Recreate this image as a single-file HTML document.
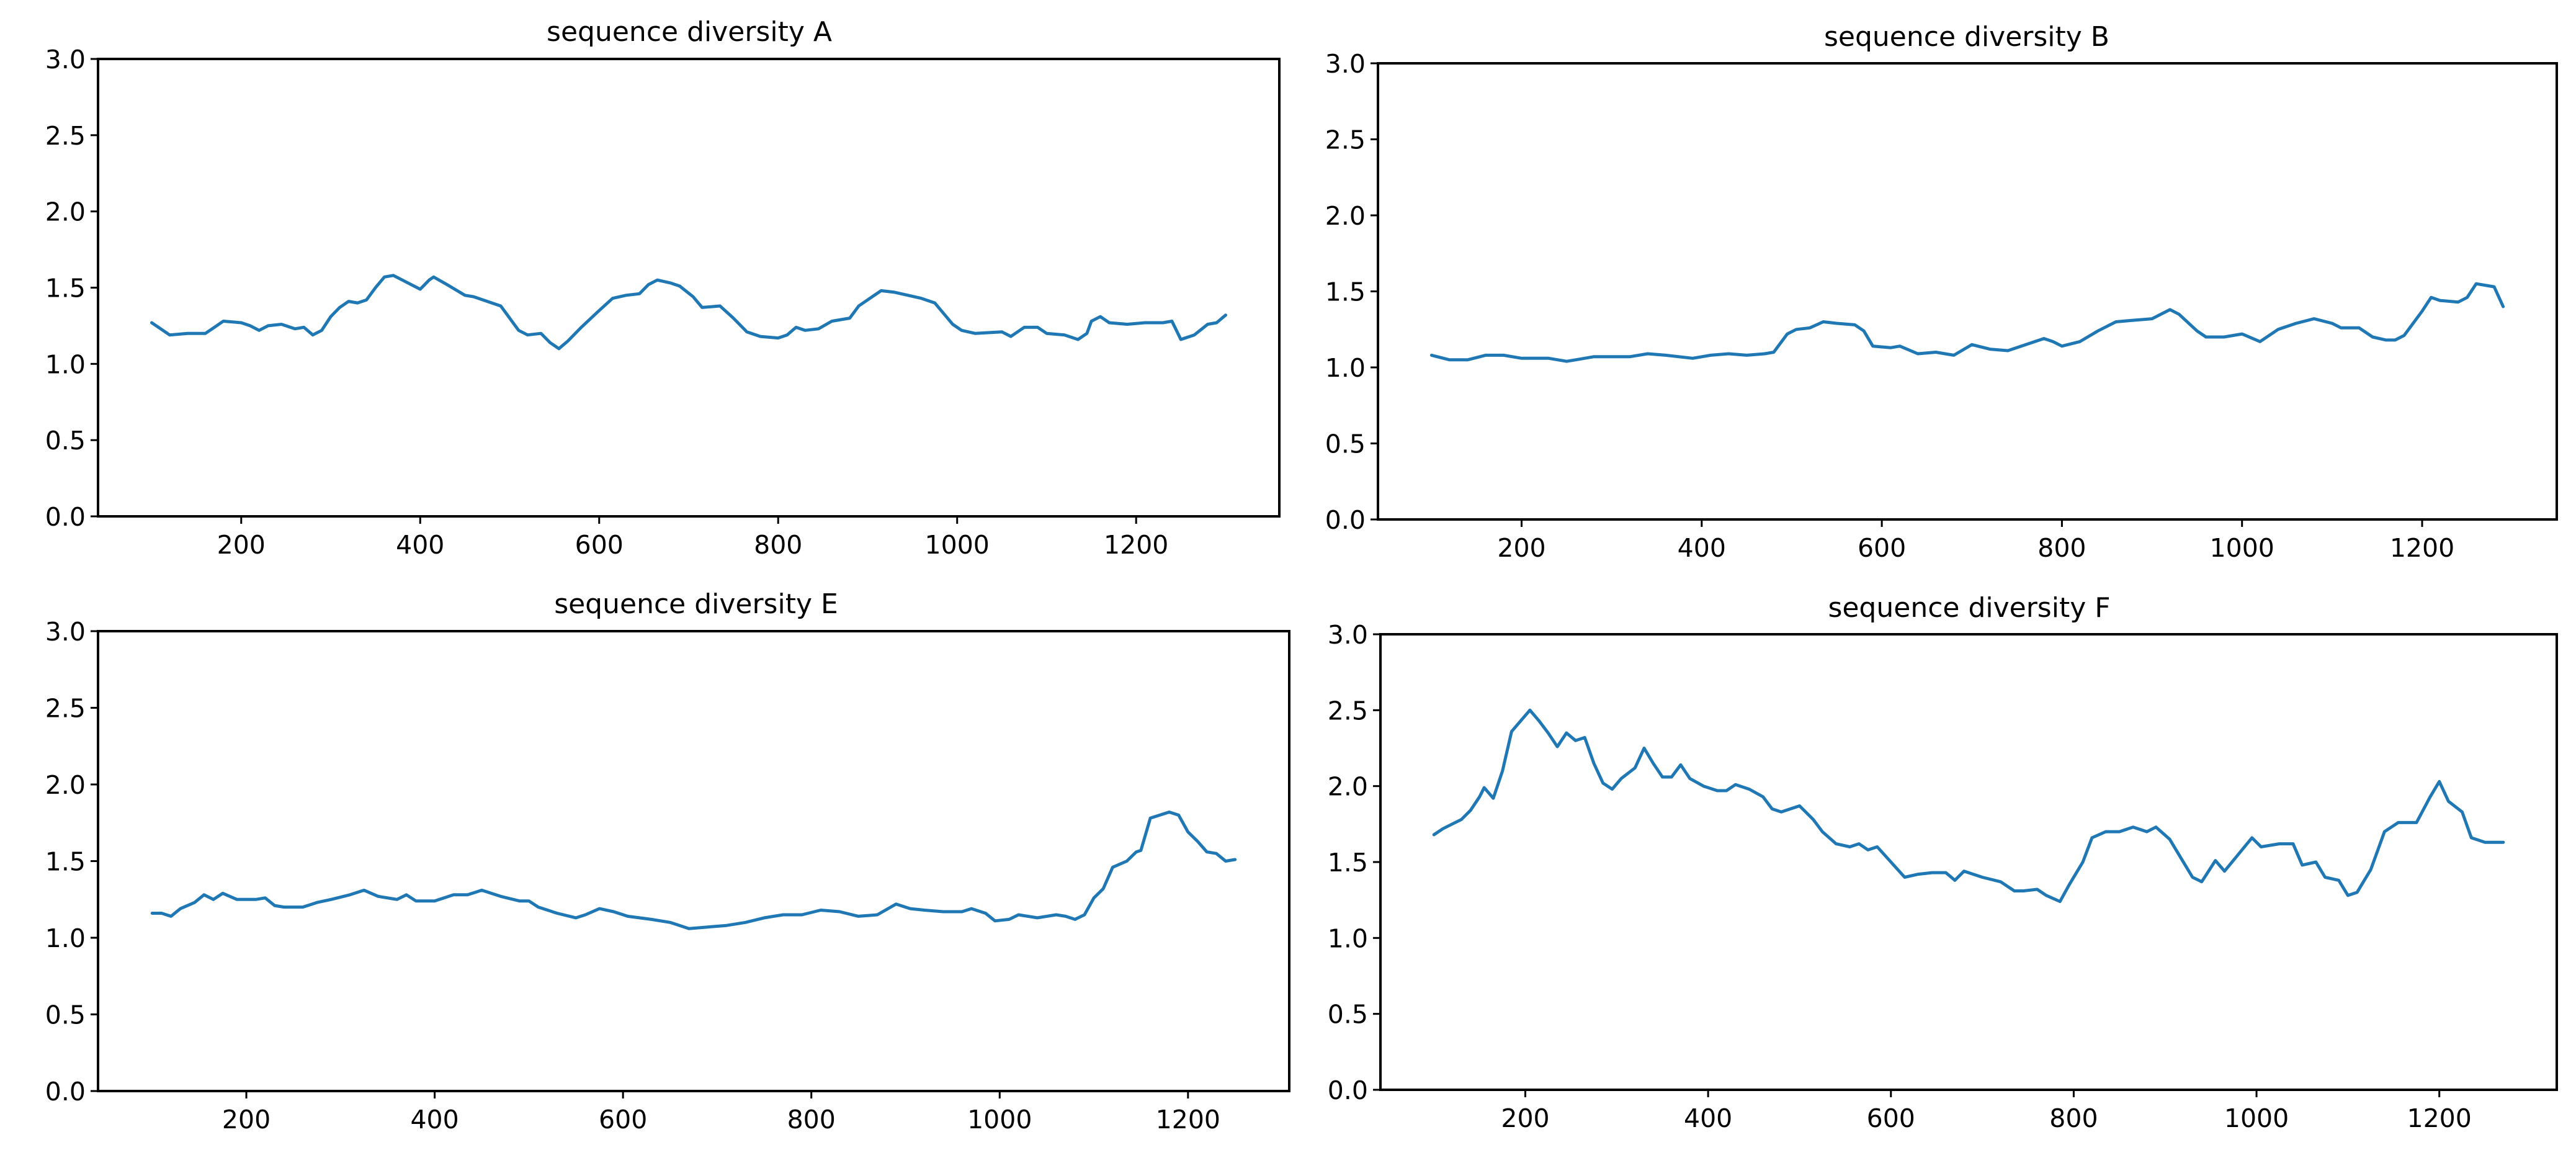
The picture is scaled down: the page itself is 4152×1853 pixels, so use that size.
<!DOCTYPE html>
<html><head><meta charset="utf-8"><style>
html,body{margin:0;padding:0;background:#fff;}
svg{display:block;font-family:"DejaVu Sans","Liberation Sans",sans-serif;}
</style></head><body>
<svg id="fig" width="4152" height="1853" viewBox="0 0 4152 1853"></svg>
<script>
const xTicks = [200,400,600,800,1000,1200];
const yTicks = [0,0.5,1,1.5,2,2.5,3];
const yTickLabels = ["0.0","0.5","1.0","1.5","2.0","2.5","3.0"];

const titles = ["sequence diversity A","sequence diversity B","sequence diversity E","sequence diversity F"];

const posA = [100,110,120,140,160,170,180,200,210,220,230,245,260,270,280,290,300,310,320,330,340,350,360,370,380,390,400,410,415,430,450,460,480,490,500,510,520,535,545,555,565,580,600,615,630,645,655,665,680,690,705,715,735,750,765,780,800,810,820,830,845,860,880,890,905,915,930,945,960,975,985,995,1005,1020,1050,1060,1075,1090,1100,1120,1135,1145,1150,1160,1170,1190,1210,1230,1240,1250,1265,1280,1290,1300];
const valA = [1.27,1.23,1.19,1.20,1.20,1.24,1.28,1.27,1.25,1.22,1.25,1.26,1.23,1.24,1.19,1.22,1.31,1.37,1.41,1.40,1.42,1.50,1.57,1.58,1.55,1.52,1.49,1.55,1.57,1.52,1.45,1.44,1.40,1.38,1.30,1.22,1.19,1.20,1.14,1.10,1.15,1.24,1.35,1.43,1.45,1.46,1.52,1.55,1.53,1.51,1.44,1.37,1.38,1.30,1.21,1.18,1.17,1.19,1.24,1.22,1.23,1.28,1.30,1.38,1.44,1.48,1.47,1.45,1.43,1.40,1.33,1.26,1.22,1.20,1.21,1.18,1.24,1.24,1.20,1.19,1.16,1.20,1.28,1.31,1.27,1.26,1.27,1.27,1.28,1.16,1.19,1.26,1.27,1.32];

const posB = [100,120,140,160,180,200,230,250,260,280,320,340,360,390,410,430,450,470,480,495,505,520,535,550,570,580,590,610,620,640,660,680,700,720,740,760,780,790,800,820,840,860,880,900,920,930,950,960,980,1000,1020,1040,1060,1080,1100,1110,1130,1145,1160,1170,1180,1200,1210,1220,1240,1250,1260,1280,1290];
const valB = [1.08,1.05,1.05,1.08,1.08,1.06,1.06,1.04,1.05,1.07,1.07,1.09,1.08,1.06,1.08,1.09,1.08,1.09,1.10,1.22,1.25,1.26,1.30,1.29,1.28,1.24,1.14,1.13,1.14,1.09,1.10,1.08,1.15,1.12,1.11,1.15,1.19,1.17,1.14,1.17,1.24,1.30,1.31,1.32,1.38,1.35,1.24,1.20,1.20,1.22,1.17,1.25,1.29,1.32,1.29,1.26,1.26,1.20,1.18,1.18,1.21,1.37,1.46,1.44,1.43,1.46,1.55,1.53,1.40];

const posE = [100,110,120,130,145,155,165,175,190,210,220,230,240,260,275,290,310,325,340,360,370,380,400,420,435,450,470,490,500,510,530,550,560,575,590,605,630,650,670,690,710,730,750,770,790,810,830,850,870,890,905,920,940,960,970,985,995,1010,1020,1040,1060,1070,1080,1090,1100,1110,1120,1135,1145,1150,1160,1170,1180,1190,1200,1210,1220,1230,1240,1250];
const valE = [1.16,1.16,1.14,1.19,1.23,1.28,1.25,1.29,1.25,1.25,1.26,1.21,1.20,1.20,1.23,1.25,1.28,1.31,1.27,1.25,1.28,1.24,1.24,1.28,1.28,1.31,1.27,1.24,1.24,1.20,1.16,1.13,1.15,1.19,1.17,1.14,1.12,1.10,1.06,1.07,1.08,1.10,1.13,1.15,1.15,1.18,1.17,1.14,1.15,1.22,1.19,1.18,1.17,1.17,1.19,1.16,1.11,1.12,1.15,1.13,1.15,1.14,1.12,1.15,1.26,1.32,1.46,1.50,1.56,1.57,1.78,1.80,1.82,1.80,1.69,1.63,1.56,1.55,1.50,1.51];

const posF = [100,110,120,130,140,150,155,165,175,185,195,205,215,225,235,245,255,265,275,285,295,305,320,330,340,350,360,370,380,395,410,420,430,445,460,470,480,490,500,515,525,540,555,565,575,585,600,615,630,645,660,670,680,700,720,735,745,760,770,785,795,810,820,835,850,865,880,890,905,915,930,940,955,965,980,995,1005,1025,1040,1050,1065,1075,1090,1100,1110,1125,1140,1155,1175,1190,1200,1210,1225,1235,1250,1270];
const valF = [1.68,1.72,1.75,1.78,1.84,1.93,1.99,1.92,2.10,2.36,2.43,2.50,2.43,2.35,2.26,2.35,2.30,2.32,2.15,2.02,1.98,2.05,2.12,2.25,2.15,2.06,2.06,2.14,2.05,2.00,1.97,1.97,2.01,1.98,1.93,1.85,1.83,1.85,1.87,1.78,1.70,1.62,1.60,1.62,1.58,1.60,1.50,1.40,1.42,1.43,1.43,1.38,1.44,1.40,1.37,1.31,1.31,1.32,1.28,1.24,1.35,1.50,1.66,1.70,1.70,1.73,1.70,1.73,1.65,1.55,1.40,1.37,1.51,1.44,1.55,1.66,1.60,1.62,1.62,1.48,1.50,1.40,1.38,1.28,1.30,1.45,1.70,1.76,1.76,1.93,2.03,1.90,1.83,1.66,1.63,1.63];

const panels = [
 {name:"panel-a", pos:posA, val:valA, title:titles[0], l:158, r:2062, t:95, b:832, tx:1111, ty:66},
 {name:"panel-b", pos:posB, val:valB, title:titles[1], l:2221, r:4121, t:102, b:837, tx:3170, ty:74},
 {name:"panel-e", pos:posE, val:valE, title:titles[2], l:158, r:2078, t:1017, b:1758, tx:1122, ty:988},
 {name:"panel-f", pos:posF, val:valF, title:titles[3], l:2225, r:4121, t:1022, b:1756, tx:3174, ty:994}
];
const NS = "http://www.w3.org/2000/svg";
const svg = document.getElementById("fig");
function mk(tag, attrs, parent){
  const e = document.createElementNS(NS, tag);
  for (const k in attrs) e.setAttribute(k, attrs[k]);
  parent.appendChild(e);
  return e;
}
panels.forEach(p => {
  const g = mk("g", {}, svg);
  
  
  const xmin = Math.min(...p.pos), xmax = Math.max(...p.pos);
  const m = (xmax - xmin) * 0.05;
  const x0 = xmin - m, x1 = xmax + m;
  const X = v => p.l + (v - x0) / (x1 - x0) * (p.r - p.l);
  const Y = v => p.b - (v - 0) / 3 * (p.b - p.t);
  // line
  const pts = p.pos.map((x,i) => X(x).toFixed(1) + "," + Y(p.val[i]).toFixed(1)).join(" ");
  const line = mk("polyline", {points:pts, fill:"none", stroke:"#1f77b4", "stroke-width":5, "stroke-linejoin":"round", "stroke-linecap":"round"}, g);
  
  
  // frame
  const fr = mk("rect", {x:p.l, y:p.t, width:p.r-p.l, height:p.b-p.t, fill:"none", stroke:"#000", "stroke-width":4}, g);
  
  
  // x ticks
  xTicks.forEach(t => {
    const x = X(t);
    const tk = mk("line", {x1:x, x2:x, y1:p.b, y2:p.b+12, stroke:"#000", "stroke-width":3}, g);
    
    
    const tl = mk("text", {x:x, y:p.b+60, "font-size":41, "text-anchor":"middle", fill:"#000"}, g);
    tl.textContent = String(t);
    
    
  });
  yTicks.forEach((t,i) => {
    const y = Y(t);
    const tk = mk("line", {x1:p.l-12, x2:p.l, y1:y, y2:y, stroke:"#000", "stroke-width":3}, g);
    
    
    const tl = mk("text", {x:p.l-20, y:y+15, "font-size":41, "text-anchor":"end", fill:"#000"}, g);
    tl.textContent = yTickLabels[i];
    
    
  });
  const tt = mk("text", {x:p.tx, y:p.ty, "font-size":44, "text-anchor":"middle", fill:"#000"}, g);
  tt.textContent = p.title;
  
  
});
</script>
</body></html>
